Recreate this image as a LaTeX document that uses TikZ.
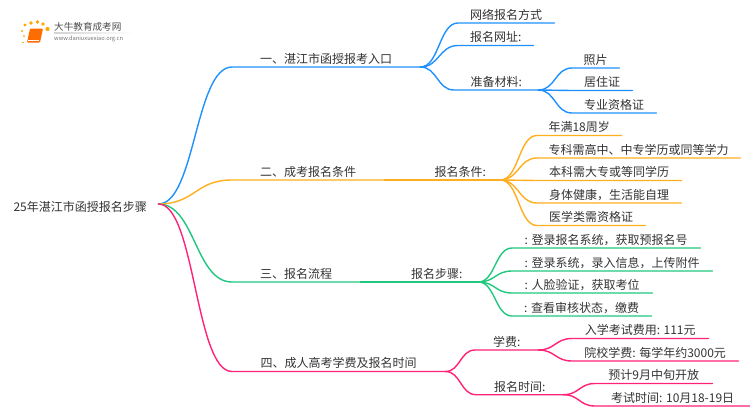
\documentclass[tikz,border=0pt]{standalone}
\usepackage{fontspec}
\setmainfont{Noto Sans CJK SC}
\usetikzlibrary{calc}
\definecolor{cblue}{HTML}{1E90FF}
\definecolor{corange}{HTML}{FFAF1E}
\definecolor{cgreen}{HTML}{1FC77F}
\definecolor{cpink}{HTML}{FF2277}
\definecolor{ctext}{HTML}{333333}
\tikzset{
  lbl/.style={anchor=south west,inner sep=0pt,minimum width=#1,text height=11pt,text depth=3.5pt,align=center,text=ctext,font=\fontsize{12pt}{14pt}\selectfont},
  rootnode/.style={anchor=west,inner sep=0pt,minimum width=156pt,text height=14pt,text depth=0pt,text=ctext,font=\fontsize{12pt}{14pt}\selectfont},
  edge/.style={draw=#1,line width=1.4pt,line cap=round,line join=round}
}
\newcommand\lnk[3]{\draw[edge=#1] let \p1=(#2), \p2=(#3.south west), \p3=($(\p1)!.5!(\p2)$) in (\p1) .. controls (\x3,\y1) and (\x3,\y2) .. (\p2) -- (#3.south east);}
\begin{document}
\begin{tikzpicture}[x=1pt,y=-1pt]
\useasboundingbox (0,0) rectangle (750,410);
% logo
\shade[left color=gray!35,right color=white,draw=none] (54,32.6) rectangle (134,33.4);
\foreach \p/\r in {{25,25}/1.6,{31,23}/1.9,{37.5,22}/1.9,{43,24}/1.9,{47.5,29}/2.1,{22,31}/1.2,{24,36}/1,{23,42.5}/.8}{
  \fill[orange!70!yellow] (\p) circle (\r);
}
\fill[orange!85!red,rounded corners=1pt] (30,28.5) -- (43,28.5) -- (40,42.5) -- (27,42.5) -- cycle;
\draw[white,line width=.5pt] (28.2,40) -- (39,40);
\node[inner sep=0pt,anchor=west,text=black!70,font=\fontsize{9.6pt}{11pt}\selectfont] (logot) at (54,27) {大牛教育成考网};
\node[inner sep=0pt,anchor=west,text=black!55,font=\fontsize{5.7pt}{7pt}\selectfont] (logou) at (54,38.5) {www.daniuxuexiao.org.cn};
% nodes
\node[rootnode] (root) at (2,204) {25年湛江市函授报名步骤};
\node[lbl=188pt] (b) at (232,67) {一、湛江市函授报考入口};
\node[lbl=96pt] (b1) at (458,23) {网络报名方式};
\node[lbl=75pt] (b2) at (458,45.5) {报名网址:};
\node[lbl=84pt] (b3) at (454,90) {准备材料:};
\node[lbl=47pt] (b31) at (572,68) {照片};
\node[lbl=60pt] (b32) at (572,90.5) {居住证};
\node[lbl=84pt] (b33) at (572,113) {专业资格证};
\node[lbl=152pt] (o) at (232,180) {二、成考报名条件};
\node[lbl=80pt] (o0) at (420,180) {报名条件:};
\node[lbl=84pt] (o1) at (537,135.5) {年满18周岁};
\node[lbl=203pt] (o2) at (537,158) {专科需高中、中专学历或同等学力};
\node[lbl=144pt] (o3) at (537,180.5) {本科需大专或等同学历};
\node[lbl=144pt] (o4) at (537,203) {身体健康，生活能自理};
\node[lbl=108pt] (o5) at (537,225.5) {医学类需资格证};
\node[lbl=128pt] (g) at (232,282) {三、报名流程};
\node[lbl=83pt] (g0) at (395,282) {报名步骤:};
\node[lbl=188pt] (g1) at (512,248) {: 登录报名系统，获取预报名号};
\node[lbl=200pt] (g2) at (512,271) {: 登录系统，录入信息，上传附件};
\node[lbl=140pt] (g3) at (512,293) {: 人脸验证，获取考位};
\node[lbl=139pt] (g4) at (512,316) {: 查看审核状态，缴费};
\node[lbl=213pt] (p) at (232,371.5) {四、成人高考学费及报名时间};
\node[lbl=63pt] (p1) at (475,350) {学费:};
\node[lbl=87pt] (p2) at (476,394.7) {报名时间:};
\node[lbl=136pt] (p11) at (572,338.5) {入学考试费用: 111元};
\node[lbl=166pt] (p12) at (572,361) {院校学费: 每学年约3000元};
\node[lbl=117pt] (p21) at (595,383.5) {预计9月中旬开放};
\node[lbl=155pt] (p22) at (595,406) {考试时间: 10月18-19日};
% connectors
\lnk{cblue}{root.east}{b}
\lnk{cblue}{b.south east}{b1}
\lnk{cblue}{b.south east}{b2}
\lnk{cblue}{b.south east}{b3}
\lnk{cblue}{b3.south east}{b31}
\lnk{cblue}{b3.south east}{b32}
\lnk{cblue}{b3.south east}{b33}
\lnk{corange}{root.east}{o}
\lnk{corange}{o.south east}{o0}
\lnk{corange}{o0.south east}{o1}
\lnk{corange}{o0.south east}{o2}
\lnk{corange}{o0.south east}{o3}
\lnk{corange}{o0.south east}{o4}
\lnk{corange}{o0.south east}{o5}
\lnk{cgreen}{root.east}{g}
\lnk{cgreen}{g.south east}{g0}
\lnk{cgreen}{g0.south east}{g1}
\lnk{cgreen}{g0.south east}{g2}
\lnk{cgreen}{g0.south east}{g3}
\lnk{cgreen}{g0.south east}{g4}
\lnk{cpink}{root.east}{p}
\lnk{cpink}{p.south east}{p1}
\lnk{cpink}{p.south east}{p2}
\lnk{cpink}{p1.south east}{p11}
\lnk{cpink}{p1.south east}{p12}
\lnk{cpink}{p2.south east}{p21}
\lnk{cpink}{p2.south east}{p22}
\end{tikzpicture}
\end{document}
